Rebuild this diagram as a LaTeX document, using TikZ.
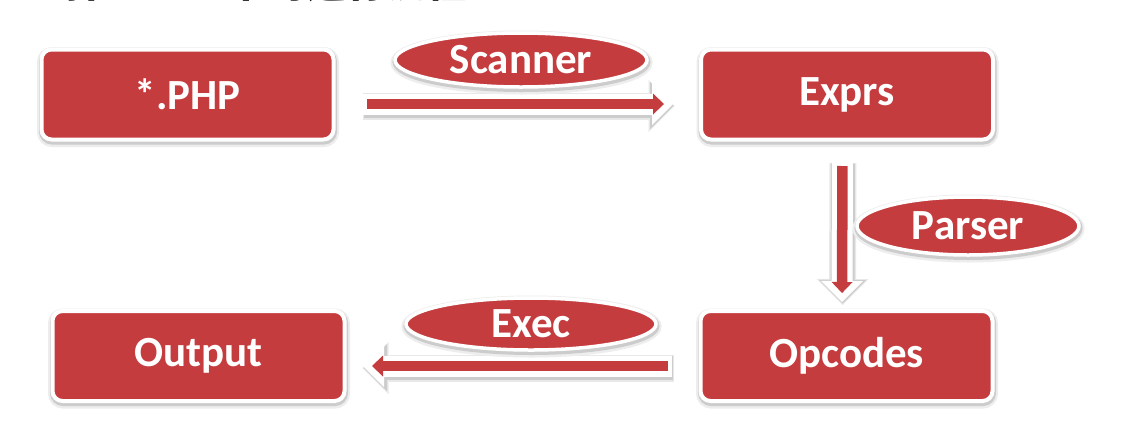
\documentclass[tikz,border=0pt]{standalone}
\usepackage{fontspec}
\setmainfont{Carlito}
\newfontfamily\cjkfont{Noto Sans CJK SC}
\usetikzlibrary{shapes.geometric,arrows.meta}
\definecolor{cred}{RGB}{197,60,63}
\begin{document}
\begin{tikzpicture}[x=1pt,y=-1pt,
  lab/.style={text=white, font=\fontsize{43}{48}\selectfont\bfseries},
  softshadow/.style={
    preaction={draw=black!7, fill=black!7, line width=10pt,
      transform canvas={xshift=0.5pt, yshift=-2.5pt}},
    preaction={draw=black!20, fill=black!20, line width=6pt,
      transform canvas={xshift=0.5pt, yshift=-2pt}}},
  box/.style={lab, rectangle, rounded corners=10pt, fill=cred, draw=white,
    line width=4pt, outer sep=0pt, minimum width=292pt, minimum height=90pt,
    softshadow},
  oval/.style={lab, ellipse, inner sep=0pt, outer sep=0pt, fill=cred, draw=white,
    line width=3.5pt, softshadow},
  fat/.style 2 args={draw=cred, line width=10.5pt, shorten <=#1+4pt, shorten >=#2+9pt,
    -{Triangle[width=21pt,length=11pt,line width=0pt]},
    preaction={draw=black!9, line width=27pt, shorten <=#1-1pt, shorten >=#2-1pt,
      transform canvas={xshift=0.5pt,yshift=-2pt},
      -{Triangle[width=52pt,length=26pt,line width=0pt]}},
    preaction={draw=black!20, line width=24pt, shorten <=#1, shorten >=#2,
      transform canvas={xshift=0.5pt,yshift=-1.5pt},
      -{Triangle[width=47pt,length=23.5pt,line width=0pt]}},
    preaction={draw=white, line width=21pt, shorten <=#1, shorten >=#2,
      -{Triangle[width=42pt,length=21pt,line width=0pt]}}}
]
\useasboundingbox (0,0) rectangle (1126,421);
\clip (0,0) rectangle (1126,421);
\fill[white] (0,0) rectangle (1126,421);

\node[anchor=base east, inner sep=0pt, font=\cjkfont\bfseries\fontsize{40}{40}\selectfont]
  (title) at (467,-2.5) {码在 PHP 中的运行流程};

\node[box] (php)   at (187.5,94.5) {*.PHP};
\node[box] (exprs) at (847,94.5)   {Exprs};
\node[box] (opc)   at (846.5,356)  {Opcodes};
\node[box] (out)   at (198.5,356)  {Output};

\draw[fat={29.5pt}{28pt}] ([yshift=-9.5pt]php.east) -- ([yshift=-9.5pt]exprs.west);
\draw[fat={22.5pt}{9pt}] ([xshift=-4.5pt]exprs.south) -- ([xshift=-4.5pt]opc.north);
\draw[fat={28.5pt}{18.5pt}] ([yshift=-10pt]opc.west) -- ([yshift=-10pt]out.east);

\node[oval, minimum width=252pt, minimum height=54pt] (scan) at (521,60) {Scanner};
\node[oval, minimum width=222pt, minimum height=58pt] (pars) at (968,226) {Parser};
\node[oval, minimum width=250pt, minimum height=52pt] (exec) at (531,324) {Exec};
\end{tikzpicture}
\end{document}
